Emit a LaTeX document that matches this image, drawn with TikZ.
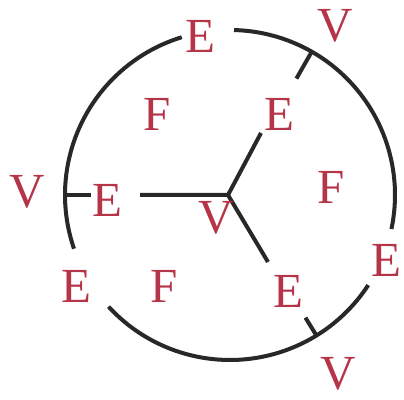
\documentclass[tikz,border=0pt]{standalone}
\usepackage{fontspec}
\setmainfont{Liberation Serif}
\definecolor{lab}{RGB}{182,52,72}
\definecolor{ink}{RGB}{40,40,42}
\begin{document}
\begin{tikzpicture}[x=1pt,y=1pt,
  lbl/.style={text=lab,inner sep=0pt,font=\fontsize{49}{49}\selectfont},
  stroke/.style={draw=ink,line width=4pt}]
\useasboundingbox (0,0) rectangle (404,399);
\coordinate (C) at (230,204);
\coordinate (J) at (228,204);
% circle arcs
\draw[stroke] ([shift={(107:165pt)}]C) arc[start angle=107,end angle=199,radius=165pt];
\draw[stroke] ([shift={(222.6:165pt)}]C) arc[start angle=222.6,end angle=326.9,radius=165pt];
\draw[stroke] ([shift={(-11.9:165pt)}]C) arc[start angle=-11.9,end angle=88.6,radius=165pt];
% ticks
\coordinate (tL1) at ([shift={(180:165pt)}]C);
\coordinate (tL2) at ([shift={(180:139pt)}]C);
\coordinate (tU1) at ([shift={(60.3:165pt)}]C);
\coordinate (tU2) at ([shift={(60.3:134pt)}]C);
\coordinate (tD1) at ([shift={(-58.4:165pt)}]C);
\coordinate (tD2) at ([shift={(-58.4:144pt)}]C);
\draw[stroke] (tL1) -- (tL2);
\draw[stroke] (tU1) -- (tU2);
\draw[stroke] (tD1) -- (tD2);
% spokes
\coordinate (eU) at (261,266);
\coordinate (eD) at (268,137);
\coordinate (eL) at (140,204);
\draw[stroke,line join=miter] (eL) -- (J) -- (eU);
\draw[stroke] (J) -- (eD);
% labels
\node[lbl] (Etop) at (200,363) {E};
\node[lbl] (Vtr) at (335,373) {V};
\node[lbl] (Vl) at (27,207) {V};
\node[lbl] (El) at (107,199) {E};
\node[lbl] (Er) at (386,139) {E};
\node[lbl] (Vb) at (338,25) {V};
\node[lbl] (Fu) at (157,285) {F};
\node[lbl] (Eu) at (279,285) {E};
\node[lbl] (Ell) at (76,113) {E};
\node[lbl] (Fd) at (164,113) {F};
\node[lbl] (Ed) at (288,108) {E};
\node[lbl] (Fr) at (331,212) {F};
\node[lbl] (Vc) at (216,181) {V};
\end{tikzpicture}
\end{document}
